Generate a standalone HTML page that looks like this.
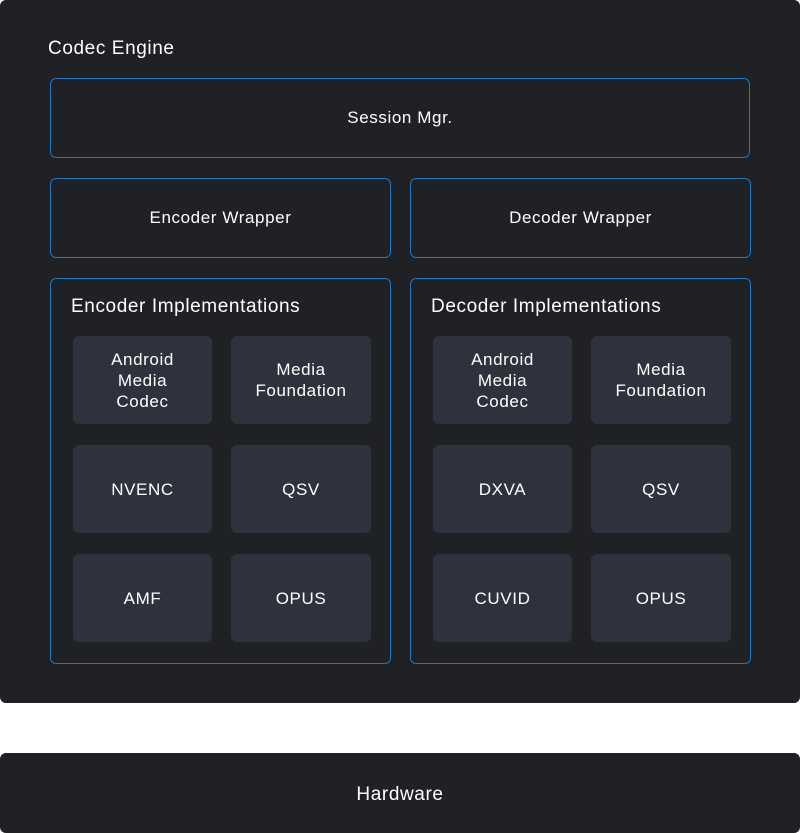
<!DOCTYPE html>
<html><head><style>
body{margin:0;width:800px;height:833px;background:#fff;position:relative;font-family:"Liberation Sans",sans-serif;color:#fff;overflow:hidden;letter-spacing:0.6px}
.a{position:absolute;box-sizing:border-box}
.panel{background:#202125;border-radius:6px}
.bx{border:1px solid #1a78c2;border-radius:6px;display:flex;align-items:center;justify-content:center;font-size:17px}
.c{background:#2e323d;border-radius:6px;display:flex;align-items:center;justify-content:center;text-align:center;font-size:17px;line-height:21px}
.t{font-size:19px}
</style></head><body>
<div class="a panel" style="left:0;top:0;width:800px;height:703px"></div>
<div class="a t" style="left:48px;top:38px">Codec Engine</div>
<div class="a bx" style="left:50px;top:78px;width:700px;height:80px">Session Mgr.</div>
<div class="a bx" style="left:50px;top:178px;width:341px;height:80px">Encoder Wrapper</div>
<div class="a bx" style="left:410px;top:178px;width:341px;height:80px">Decoder Wrapper</div>
<div class="a bx" style="left:50px;top:278px;width:341px;height:386px"></div>
<div class="a bx" style="left:410px;top:278px;width:341px;height:386px"></div>
<div class="a t" style="left:71px;top:296px">Encoder Implementations</div>
<div class="a t" style="left:431px;top:296px">Decoder Implementations</div>

<div class="a c" style="left:73px;top:336px;width:139px;height:88px">Android<br>Media<br>Codec</div>
<div class="a c" style="left:231px;top:336px;width:140px;height:88px">Media<br>Foundation</div>
<div class="a c" style="left:73px;top:445px;width:139px;height:88px">NVENC</div>
<div class="a c" style="left:231px;top:445px;width:140px;height:88px">QSV</div>
<div class="a c" style="left:73px;top:554px;width:139px;height:88px">AMF</div>
<div class="a c" style="left:231px;top:554px;width:140px;height:88px">OPUS</div>

<div class="a c" style="left:433px;top:336px;width:139px;height:88px">Android<br>Media<br>Codec</div>
<div class="a c" style="left:591px;top:336px;width:140px;height:88px">Media<br>Foundation</div>
<div class="a c" style="left:433px;top:445px;width:139px;height:88px">DXVA</div>
<div class="a c" style="left:591px;top:445px;width:140px;height:88px">QSV</div>
<div class="a c" style="left:433px;top:554px;width:139px;height:88px">CUVID</div>
<div class="a c" style="left:591px;top:554px;width:140px;height:88px">OPUS</div>

<div class="a panel" style="left:0;top:753px;width:800px;height:80px;display:flex;align-items:center;justify-content:center;font-size:19px;padding-top:3px">Hardware</div>
</body></html>
